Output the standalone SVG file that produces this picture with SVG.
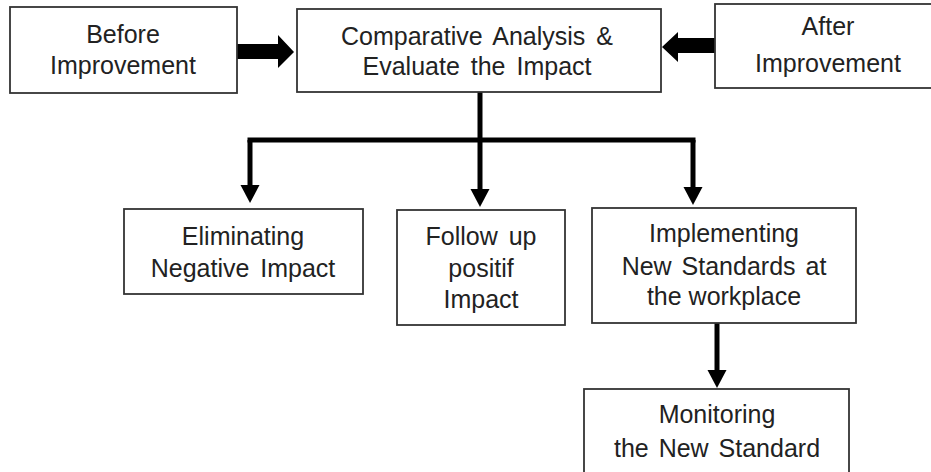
<svg xmlns="http://www.w3.org/2000/svg" width="931" height="472" viewBox="0 0 931 472">
  <style>
    .box { fill: #ffffff; stroke: #333333; stroke-width: 1.8; }
    .lbl { font-family: "Liberation Sans", Arial, sans-serif; font-size: 25px; fill: #222222; text-anchor: middle; }
    .wire { fill: none; stroke: #000000; stroke-width: 5; }
    .block { fill: #000000; }
  </style>
  <defs>
    <!-- triangular head, base sits on the end of the line -->
    <marker id="head" markerUnits="userSpaceOnUse" markerWidth="20" markerHeight="20" viewBox="0 0 20 20" refX="0" refY="10" orient="auto">
      <path d="M0,0.5 L18,10 L0,19.5 Z" fill="#000000"/>
    </marker>
  </defs>
  <rect width="931" height="472" fill="#ffffff"/>

  <g id="connectors">
    <!-- block arrows into the analysis box -->
    <polygon class="block" points="237,44 278,44 278,35 294,52 278,68 278,59 237,59"/>
    <polygon class="block" points="718,38 678,38 678,32 662,47 678,62 678,53 718,53"/>
    <!-- tree from analysis box -->
    <path class="wire" d="M480,92 L480,140"/>
    <path class="wire" d="M250,140 L693,140" stroke-linecap="square"/>
    <path class="wire" d="M250,140 L250,185" marker-end="url(#head)"/>
    <path class="wire" d="M480,140 L480,189" marker-end="url(#head)"/>
    <path class="wire" d="M693,140 L693,187" marker-end="url(#head)"/>
    <path class="wire" d="M717,323 L717,370" marker-end="url(#head)"/>
  </g>

  <g id="before">
    <rect class="box" x="10" y="7" width="227" height="86"/>
    <text class="lbl" x="123" y="43">Before</text>
    <text class="lbl" x="123" y="74">Improvement</text>
  </g>

  <g id="analysis">
    <rect class="box" x="297" y="9" width="364" height="83"/>
    <text class="lbl" x="477" y="45" word-spacing="4">Comparative Analysis &amp;</text>
    <text class="lbl" x="477" y="75" word-spacing="4">Evaluate the Impact</text>
  </g>

  <g id="after">
    <rect class="box" x="715" y="4" width="226" height="84"/>
    <text class="lbl" x="828" y="35">After</text>
    <text class="lbl" x="828" y="72">Improvement</text>
  </g>

  <g id="eliminating">
    <rect class="box" x="124" y="209" width="239" height="85"/>
    <text class="lbl" x="243" y="245">Eliminating</text>
    <text class="lbl" x="243" y="277" word-spacing="4">Negative Impact</text>
  </g>

  <g id="follow-up">
    <rect class="box" x="397" y="210" width="168" height="115"/>
    <text class="lbl" x="481" y="245" word-spacing="4">Follow up</text>
    <text class="lbl" x="481" y="277">positif</text>
    <text class="lbl" x="481" y="308">Impact</text>
  </g>

  <g id="implementing">
    <rect class="box" x="592" y="208" width="264" height="115"/>
    <text class="lbl" x="724" y="242">Implementing</text>
    <text class="lbl" x="724" y="275" word-spacing="3">New Standards at</text>
    <text class="lbl" x="724" y="305">the workplace</text>
  </g>

  <g id="monitoring">
    <rect class="box" x="584" y="389" width="265" height="90"/>
    <text class="lbl" x="717" y="423">Monitoring</text>
    <text class="lbl" x="717" y="457" word-spacing="3">the New Standard</text>
  </g>
</svg>
